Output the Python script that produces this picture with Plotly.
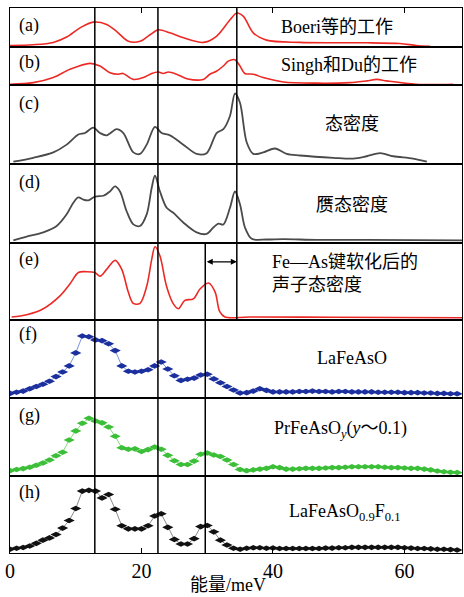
import plotly.graph_objects as go
from plotly.subplots import make_subplots

# ---------------- data ----------------
# (a) Boeri et al. calculation
a_energy = [0, 3.55, 6.59, 8.62, 10.65, 12.67, 14.7, 16.2, 18.0, 19.8, 21.3, 22.56, 24.3, 26.4,
            29.4, 31.4, 33.5, 34.5, 35.5, 37.0, 39.0, 44.1, 49.2, 54.25, 59.3, 61.8, 63.9]
a_dos = [0.02, 0.04, 0.10, 0.24, 0.48, 0.63, 0.57, 0.39, 0.13, 0.13, 0.30, 0.43, 0.35, 0.22,
         0.10, 0.26, 0.70, 0.87, 0.78, 0.35, 0.16, 0.10, 0.09, 0.09, 0.07, 0.02, 0.0]

# (b) Singh & Du calculation
b_energy = [0, 3.55, 6.59, 9.13, 12.17, 13.69, 15.2, 16.5, 17.2, 18.0, 18.76, 20.3, 21.55, 22.56,
            23.3, 24.1, 25.35, 26.9, 29.4, 30.4, 31.4, 32.45, 33.2, 34.2, 34.98, 35.7, 37.0, 38.5,
            41.6, 46.6, 51.7, 54.25, 55.8, 57.3, 61.8, 67.4]
b_dos = [0.0, 0.044, 0.18, 0.40, 0.56, 0.49, 0.31, 0.27, 0.29, 0.20, 0.13, 0.18, 0.29, 0.33,
         0.29, 0.33, 0.27, 0.15, 0.13, 0.27, 0.35, 0.49, 0.62, 0.66, 0.49, 0.29, 0.27, 0.18,
         0.06, 0.03, 0.044, 0.09, 0.13, 0.09, 0.0, 0.0]

# (c) density of states
c_energy = [0.51, 3.55, 6.59, 8.62, 10.39, 11.41, 12.67, 13.69, 14.7, 16.22, 17.24, 18.76, 19.77,
            20.79, 22.05, 23.07, 24.33, 26.36, 28.39, 29.91, 31.43, 32.45, 33.46, 34.22, 34.98,
            36.0, 37.0, 38.53, 40.3, 42.08, 44.1, 49.2, 52.2, 54.25, 56.3, 58.3, 61.3, 63.4]
c_dos = [0.01, 0.06, 0.13, 0.23, 0.36, 0.38, 0.45, 0.38, 0.35, 0.43, 0.38, 0.13, 0.11,
         0.23, 0.46, 0.38, 0.35, 0.23, 0.11, 0.12, 0.38, 0.43, 0.60, 0.89, 0.77,
         0.26, 0.11, 0.13, 0.18, 0.11, 0.09, 0.06, 0.05, 0.08, 0.12, 0.08, 0.05, 0.01]

# (d) pseudo density of states
d_energy = [0.51, 2.53, 5.07, 7.10, 8.62, 9.63, 10.39, 11.15, 11.91, 12.93, 14.2, 15.2, 15.97,
            16.73, 17.74, 18.76, 19.77, 20.79, 21.55, 22.05, 22.81, 23.83, 24.84, 26.36, 28.39,
            29.91, 30.93, 31.69, 32.45, 33.46, 34.22, 34.98, 35.74, 36.76, 39.04, 41.57, 46.64,
            54.25, 68.95]
d_dos = [0.013, 0.063, 0.118, 0.20, 0.35, 0.50, 0.57, 0.54, 0.53, 0.58, 0.59, 0.645, 0.71,
         0.645, 0.39, 0.22, 0.20, 0.35, 0.69, 0.85, 0.645, 0.435, 0.37, 0.245, 0.118,
         0.097, 0.18, 0.23, 0.22, 0.435, 0.645, 0.48, 0.18, 0.034, 0.025, 0.03, 0.02,
         0.02, 0.013]

# (e) phonon DOS after Fe-As bond softening
e_energy = [0.25, 2.55, 5.07, 7.6, 9.13, 10.4, 11.66, 12.9, 13.7, 14.7, 16.0, 17.0, 17.99,
            18.76, 19.77, 20.8, 21.55, 22.05, 22.8, 23.8, 24.8, 25.6, 26.6, 27.9, 28.9, 30.2,
            31.2, 31.9, 32.7, 36.5, 49.2, 68.9]
e_dos = [0.02, 0.05, 0.13, 0.30, 0.46, 0.61, 0.62, 0.61, 0.56, 0.65, 0.77, 0.65, 0.35,
         0.20, 0.20, 0.43, 0.78, 0.95, 0.83, 0.43, 0.20, 0.13, 0.24, 0.26, 0.39, 0.47,
         0.35, 0.09, 0.02, 0.02, 0.017, 0.01]

# experimental spectra (f)-(h), 1 meV grid
exp_energy = list(range(0, 69))
f_lafeaso = [0.04, 0.055, 0.07, 0.10, 0.13, 0.16, 0.20, 0.26, 0.32, 0.40, 0.57, 0.79, 0.78, 0.74,
             0.73, 0.69, 0.60, 0.40, 0.33, 0.32, 0.33, 0.35, 0.40, 0.45, 0.36, 0.27, 0.21, 0.225,
             0.24, 0.28, 0.29, 0.23, 0.18, 0.13, 0.085, 0.045, 0.05, 0.07, 0.10, 0.08, 0.06,
             0.06, 0.06, 0.06, 0.065, 0.065, 0.07, 0.065, 0.065, 0.06, 0.065, 0.065, 0.06, 0.06,
             0.06, 0.06, 0.055, 0.055, 0.055, 0.055, 0.05, 0.05, 0.05, 0.045, 0.045, 0.04, 0.04,
             0.035, 0.035]
g_prfeaso = [0.05, 0.065, 0.077, 0.094, 0.12, 0.15, 0.19, 0.245, 0.29, 0.45, 0.57, 0.67, 0.735,
             0.70, 0.675, 0.62, 0.50, 0.35, 0.33, 0.335, 0.30, 0.325, 0.36, 0.33, 0.25, 0.18,
             0.13, 0.13, 0.175, 0.265, 0.28, 0.255, 0.235, 0.19, 0.13, 0.065, 0.05, 0.06, 0.07,
             0.08, 0.10, 0.09, 0.07, 0.07, 0.075, 0.08, 0.08, 0.08, 0.085, 0.09, 0.09, 0.095,
             0.10, 0.10, 0.10, 0.10, 0.10, 0.095, 0.09, 0.09, 0.085, 0.08, 0.08, 0.07, 0.06,
             0.045, 0.035, 0.03, 0.025]
h_lafeasof = [0.03, 0.043, 0.052, 0.073, 0.108, 0.15, 0.18, 0.225, 0.31, 0.41, 0.57, 0.80, 0.81,
              0.80, 0.71, 0.755, 0.56, 0.34, 0.30, 0.30, 0.30, 0.34, 0.47, 0.50, 0.32, 0.16,
              0.10, 0.10, 0.17, 0.33, 0.345, 0.26, 0.15, 0.086, 0.043, 0.03, 0.043, 0.05, 0.05,
              0.043, 0.047, 0.04, 0.04, 0.04, 0.04, 0.04, 0.04, 0.04, 0.045, 0.045, 0.05, 0.05,
              0.055, 0.055, 0.055, 0.055, 0.055, 0.055, 0.055, 0.055, 0.05, 0.045, 0.04, 0.04,
              0.035, 0.03, 0.03, 0.025, 0.02]

ref_lines = [12.9, 22.5]        # lines through all panels
peak_line_calc = 34.5           # calculated peak, panels (a)-(e)
peak_line_exp = 29.7            # softened / measured peak, panels (e)-(h)

panel_labels = ["(a)", "(b)", "(c)", "(d)", "(e)", "(f)", "(g)", "(h)"]
x_ticks = [0, 20, 40, 60]

# ---------------- figure ----------------
heights = [39, 38, 79, 79, 77, 78, 78, 77]
total = sum(heights)
fig = make_subplots(rows=8, cols=1, shared_xaxes=True, vertical_spacing=0,
                    row_heights=heights)

RED = "#ec2a25"
GREY = "#4a4a4a"

def smooth(x, y, row, color, width=1.6):
    fig.add_trace(go.Scatter(x=x, y=y, mode="lines",
                             line=dict(color=color, width=width, shape="spline", smoothing=0.9),
                             hoverinfo="skip", showlegend=False), row=row, col=1)

smooth(a_energy, a_dos, 1, RED)
smooth(b_energy, b_dos, 2, RED)
smooth(c_energy, c_dos, 3, GREY, 1.8)
smooth(d_energy, d_dos, 4, GREY, 1.8)
smooth(e_energy, e_dos, 5, RED)

def markers(y, row, mcolor, lcolor):
    fig.add_trace(go.Scatter(x=exp_energy, y=y, mode="lines+markers",
                             line=dict(color=lcolor, width=1),
                             marker=dict(symbol="diamond-wide", size=8, color=mcolor,
                                         line=dict(width=0)),
                             hoverinfo="skip", showlegend=False), row=row, col=1)

markers(f_lafeaso, 6, "#1c2f9e", "#7d95d8")
markers(g_prfeaso, 7, "#3cbf38", "#86d87a")
markers(h_lafeasof, 8, "#111111", "#8a8a8a")

XMAX = 68.75
for i in range(1, 9):
    fig.update_xaxes(row=i, col=1, range=[0, XMAX], showline=True, linecolor="black",
                     linewidth=1.3, mirror=True, showgrid=False, zeroline=False,
                     ticks="", showticklabels=False, automargin=False)
    fig.update_yaxes(row=i, col=1, range=[-0.02, 1.0], showline=True, linecolor="black",
                     linewidth=1.3, mirror=True, showgrid=False, zeroline=False,
                     ticks="", showticklabels=False, automargin=False)

fig.update_xaxes(row=8, col=1, ticks="inside", ticklen=5, tickwidth=1.2, tickcolor="black",
                 tickvals=x_ticks, showticklabels=True,
                 tickfont=dict(family="Liberation Serif", size=20, color="black"))
fig.update_xaxes(row=1, col=1, side="top", ticks="inside", ticklen=5, tickwidth=1.2,
                 tickcolor="black", tickvals=x_ticks[1:], showticklabels=False)

# panel boundaries in paper coordinates
bottoms = [sum(heights[i + 1:]) / total for i in range(8)]
tops = [sum(heights[i:]) / total for i in range(8)]

shapes = []
for xv in ref_lines:
    shapes.append(dict(type="line", xref="x", yref="paper", x0=xv, x1=xv, y0=0, y1=1,
                       line=dict(color="black", width=1.5)))
shapes.append(dict(type="line", xref="x", yref="paper", x0=peak_line_calc, x1=peak_line_calc,
                   y0=bottoms[4], y1=1, line=dict(color="black", width=1.5)))
shapes.append(dict(type="line", xref="x", yref="paper", x0=peak_line_exp, x1=peak_line_exp,
                   y0=0, y1=tops[4], line=dict(color="black", width=1.5)))

FONT = "Liberation Serif, Noto Sans CJK SC"
annotations = []
label_y = [0.56, 0.58, 0.77, 0.77, 0.78, 0.81, 0.78, 0.78]
for i, lab in enumerate(panel_labels):
    annotations.append(dict(text=lab, xref=f"x{'' if i == 0 else i + 1}",
                            yref=f"y{'' if i == 0 else i + 1} domain",
                            x=1.0, y=label_y[i], xanchor="left", yanchor="middle",
                            showarrow=False, font=dict(family=FONT, size=18, color="black")))

texts = [
    (1, "Boeri等的工作", 49.7, 0.51, "center"),
    (2, "Singh和Du的工作", 51.6, 0.53, "center"),
    (3, "态密度", 52.0, 0.51, "center"),
    (4, "赝态密度", 52.0, 0.48, "center"),
    (5, "Fe—As键软化后的<br>声子态密度", 39.5, 0.60, "left"),
    (6, "LaFeAsO", 52.0, 0.51, "center"),
    (7, "PrFeAsO<sub><i>y</i></sub>(<i>y</i>～0.1)", 50.2, 0.60, "center"),
    (8, "LaFeAsO<sub>0.9</sub>F<sub>0.1</sub>", 51.0, 0.52, "center"),
]
for row, txt, xv, yv, anc in texts:
    annotations.append(dict(text=txt, xref=f"x{'' if row == 1 else row}",
                            yref=f"y{'' if row == 1 else row} domain",
                            x=xv, y=yv, xanchor=anc, yanchor="middle", align="left",
                            showarrow=False, font=dict(family=FONT, size=18, color="black")))

# double arrow in panel (e)
annotations.append(dict(text="", xref="x5", yref="y5", x=peak_line_calc, y=0.75,
                        axref="x5", ayref="y5", ax=peak_line_exp, ay=0.75,
                        showarrow=True, arrowhead=2, arrowside="end+start", arrowsize=1,
                        arrowwidth=1.2, arrowcolor="black", standoff=0, startstandoff=0))

# axis title
annotations.append(dict(text="能量/meV", xref="x8", yref="paper", x=33.2, y=-0.059,
                        xanchor="center", yanchor="middle", showarrow=False,
                        font=dict(family=FONT, size=18, color="black")))

fig.update_layout(width=464, height=597, margin=dict(l=10, r=2, t=8, b=44, autoexpand=False),
                  paper_bgcolor="white", plot_bgcolor="white",
                  shapes=shapes, annotations=annotations, showlegend=False)

fig.write_html("out.html", config={"displayModeBar": False},
               post_script="document.body.style.margin='0';document.body.style.overflow='hidden';")
